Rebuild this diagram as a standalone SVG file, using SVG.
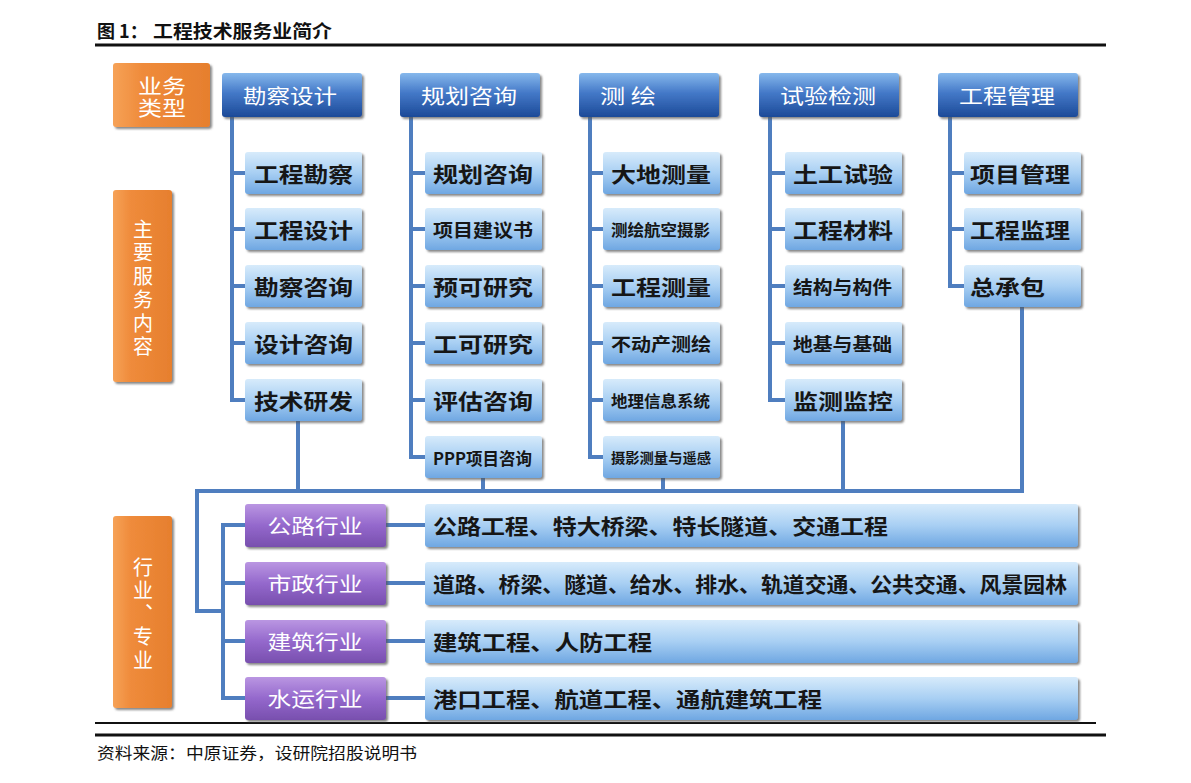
<svg xmlns="http://www.w3.org/2000/svg" width="1191" height="783" viewBox="0 0 1191 783">
<defs>
<linearGradient id="gHdr" x1="0" y1="0" x2="0" y2="1">
<stop offset="0" stop-color="#86b8ec"/><stop offset="0.45" stop-color="#4479c8"/><stop offset="1" stop-color="#1c4a98"/>
</linearGradient>
<linearGradient id="gChild" x1="0" y1="0" x2="0" y2="1">
<stop offset="0" stop-color="#d7ebfb"/><stop offset="0.5" stop-color="#a8cff3"/><stop offset="1" stop-color="#6fa7e2"/>
</linearGradient>
<linearGradient id="gPur" x1="0" y1="0" x2="0" y2="1">
<stop offset="0" stop-color="#ba96e2"/><stop offset="0.5" stop-color="#9468cc"/><stop offset="1" stop-color="#784fae"/>
</linearGradient>
<linearGradient id="gOrg" x1="0" y1="0" x2="1" y2="0">
<stop offset="0" stop-color="#f6a257"/><stop offset="0.3" stop-color="#ef8b3b"/><stop offset="1" stop-color="#e67f2e"/>
</linearGradient>
<filter id="sh" x="-10%" y="-10%" width="130%" height="140%">
<feDropShadow dx="2" dy="2" stdDeviation="1" flood-color="#555" flood-opacity="0.7"/>
</filter>
<style>
.hdr{fill:url(#gHdr);filter:url(#sh)}
.child{fill:url(#gChild);filter:url(#sh)}
.pur{fill:url(#gPur);filter:url(#sh)}
.org{fill:url(#gOrg);filter:url(#sh)}
.tw{fill:#fff;font-family:"Noto Sans CJK SC","Noto Sans",sans-serif;font-size:20px;dominant-baseline:central}
.tv{fill:#fff;font-family:"Noto Sans CJK SC","Noto Sans",sans-serif;font-size:20px;writing-mode:vertical-rl;text-orientation:upright}
.tb{fill:#161616;font-family:"Noto Sans CJK SC","Noto Sans",sans-serif;font-weight:bold;font-size:21px;dominant-baseline:central}
.s5{font-size:18px}.s6{font-size:16px}.s7{font-size:14px}.sp{font-size:17px}
.conn{stroke:#4f7ebf;stroke-width:4;fill:none}
.rule{stroke:#111;fill:none}
</style>
</defs>
<rect width="1191" height="783" fill="#fff"/>

<g id="title">
<text x="97" y="30" style="font-family:'Noto Sans CJK SC',sans-serif;font-weight:bold;font-size:18px;dominant-baseline:central;fill:#111">图 1：<tspan x="153" textLength="179" lengthAdjust="spacingAndGlyphs">工程技术服务业简介</tspan></text>
</g>
<path class="rule" d="M95,45 H1106" stroke-width="3"/>
<path class="rule" d="M95,723 H1096" stroke-width="2"/>
<path class="rule" d="M95,735 H1106" stroke-width="3"/>
<text x="97" y="752" textLength="320" lengthAdjust="spacingAndGlyphs" style="font-family:'Noto Sans CJK SC',sans-serif;font-size:16px;dominant-baseline:central;fill:#111">资料来源：中原证券，设研院招股说明书</text>

<g id="connectors">
<path class="conn" d="M232,117 V400 H245 M232,173 H245 M232,229 H245 M232,286 H245 M232,343 H245"/>
<path class="conn" d="M411,117 V457 H425 M411,173 H425 M411,229 H425 M411,286 H425 M411,343 H425 M411,400 H425"/>
<path class="conn" d="M590,117 V457 H603 M590,173 H603 M590,229 H603 M590,286 H603 M590,343 H603 M590,400 H603"/>
<path class="conn" d="M770,117 V400 H785 M770,173 H785 M770,229 H785 M770,286 H785 M770,343 H785"/>
<path class="conn" d="M950,117 V286 H964 M950,173 H964 M950,229 H964"/>
<path class="conn" d="M298,421 V491 M483,478 V491 M663,478 V491 M843,421 V491 M1022,307 V491 H197 V611 H223"/>
<path class="conn" d="M245,525 H223 V698 H245 M223,583 H245 M223,641 H245"/>
<path class="conn" d="M386,525 H425 M386,583 H425 M386,641 H425 M386,698 H425"/>
</g>

<g id="type-label"><rect class="org" x="113" y="63" width="97" height="64" rx="3"/>
<text class="tw"><tspan x="138" y="85" textLength="48" lengthAdjust="spacingAndGlyphs">业务</tspan><tspan x="138" y="107" textLength="48" lengthAdjust="spacingAndGlyphs">类型</tspan></text></g>

<g id="service-label"><rect class="org" x="113" y="190" width="59" height="192" rx="3"/>
<text class="tv" x="143" y="219" letter-spacing="3.5">主要服务内容</text></g>

<g id="industry-label"><rect class="org" x="113" y="516" width="59" height="192" rx="3"/>
<text class="tv" x="143" y="557" letter-spacing="3.3">行业、专业</text></g>

<g id="h-kcsj"><rect class="hdr" x="222" y="73" width="140" height="44" rx="3"/><text class="tw" x="243" y="95" textLength="94" lengthAdjust="spacingAndGlyphs">勘察设计</text></g>
<g id="h-ghzx"><rect class="hdr" x="400" y="73" width="140" height="44" rx="3"/><text class="tw" x="421" y="95" textLength="96" lengthAdjust="spacingAndGlyphs">规划咨询</text></g>
<g id="h-ch"><rect class="hdr" x="579" y="73" width="140" height="44" rx="3"/><text class="tw" x="600" y="95" textLength="56" lengthAdjust="spacingAndGlyphs">测 绘</text></g>
<g id="h-syjc"><rect class="hdr" x="759" y="73" width="140" height="44" rx="3"/><text class="tw" x="780" y="95" textLength="96" lengthAdjust="spacingAndGlyphs">试验检测</text></g>
<g id="h-gcgl"><rect class="hdr" x="938" y="73" width="140" height="44" rx="3"/><text class="tw" x="959" y="95" textLength="96" lengthAdjust="spacingAndGlyphs">工程管理</text></g>

<g id="c1-1"><rect class="child" x="245" y="152" width="117" height="42" rx="3"/><text class="tb" x="254" y="173" textLength="99" lengthAdjust="spacingAndGlyphs">工程勘察</text></g>
<g id="c1-2"><rect class="child" x="245" y="208" width="117" height="42" rx="3"/><text class="tb" x="254" y="229" textLength="99" lengthAdjust="spacingAndGlyphs">工程设计</text></g>
<g id="c1-3"><rect class="child" x="245" y="265" width="117" height="42" rx="3"/><text class="tb" x="254" y="286" textLength="99" lengthAdjust="spacingAndGlyphs">勘察咨询</text></g>
<g id="c1-4"><rect class="child" x="245" y="322" width="117" height="42" rx="3"/><text class="tb" x="254" y="343" textLength="99" lengthAdjust="spacingAndGlyphs">设计咨询</text></g>
<g id="c1-5"><rect class="child" x="245" y="379" width="117" height="42" rx="3"/><text class="tb" x="254" y="400" textLength="99" lengthAdjust="spacingAndGlyphs">技术研发</text></g>

<g id="c2-1"><rect class="child" x="425" y="152" width="117" height="42" rx="3"/><text class="tb" x="433" y="173" textLength="100" lengthAdjust="spacingAndGlyphs">规划咨询</text></g>
<g id="c2-2"><rect class="child" x="425" y="208" width="117" height="42" rx="3"/><text class="tb s5" x="433" y="229" textLength="100" lengthAdjust="spacingAndGlyphs">项目建议书</text></g>
<g id="c2-3"><rect class="child" x="425" y="265" width="117" height="42" rx="3"/><text class="tb" x="433" y="286" textLength="100" lengthAdjust="spacingAndGlyphs">预可研究</text></g>
<g id="c2-4"><rect class="child" x="425" y="322" width="117" height="42" rx="3"/><text class="tb" x="433" y="343" textLength="100" lengthAdjust="spacingAndGlyphs">工可研究</text></g>
<g id="c2-5"><rect class="child" x="425" y="379" width="117" height="42" rx="3"/><text class="tb" x="433" y="400" textLength="100" lengthAdjust="spacingAndGlyphs">评估咨询</text></g>
<g id="c2-6"><rect class="child" x="425" y="436" width="117" height="42" rx="3"/><text class="tb sp" x="433" y="457" textLength="99" lengthAdjust="spacingAndGlyphs">PPP项目咨询</text></g>

<g id="c3-1"><rect class="child" x="603" y="152" width="117" height="42" rx="3"/><text class="tb" x="611" y="173" textLength="100" lengthAdjust="spacingAndGlyphs">大地测量</text></g>
<g id="c3-2"><rect class="child" x="603" y="208" width="117" height="42" rx="3"/><text class="tb s6" x="611" y="229" textLength="99" lengthAdjust="spacingAndGlyphs">测绘航空摄影</text></g>
<g id="c3-3"><rect class="child" x="603" y="265" width="117" height="42" rx="3"/><text class="tb" x="611" y="286" textLength="100" lengthAdjust="spacingAndGlyphs">工程测量</text></g>
<g id="c3-4"><rect class="child" x="603" y="322" width="117" height="42" rx="3"/><text class="tb s5" x="611" y="343" textLength="100" lengthAdjust="spacingAndGlyphs">不动产测绘</text></g>
<g id="c3-5"><rect class="child" x="603" y="379" width="117" height="42" rx="3"/><text class="tb s6" x="611" y="400" textLength="99" lengthAdjust="spacingAndGlyphs">地理信息系统</text></g>
<g id="c3-6"><rect class="child" x="603" y="436" width="117" height="42" rx="3"/><text class="tb s7" x="611" y="457" textLength="100" lengthAdjust="spacingAndGlyphs">摄影测量与遥感</text></g>

<g id="c4-1"><rect class="child" x="785" y="152" width="117" height="42" rx="3"/><text class="tb" x="793" y="173" textLength="100" lengthAdjust="spacingAndGlyphs">土工试验</text></g>
<g id="c4-2"><rect class="child" x="785" y="208" width="117" height="42" rx="3"/><text class="tb" x="793" y="229" textLength="100" lengthAdjust="spacingAndGlyphs">工程材料</text></g>
<g id="c4-3"><rect class="child" x="785" y="265" width="117" height="42" rx="3"/><text class="tb s5" x="793" y="286" textLength="99" lengthAdjust="spacingAndGlyphs">结构与构件</text></g>
<g id="c4-4"><rect class="child" x="785" y="322" width="117" height="42" rx="3"/><text class="tb s5" x="793" y="343" textLength="99" lengthAdjust="spacingAndGlyphs">地基与基础</text></g>
<g id="c4-5"><rect class="child" x="785" y="379" width="117" height="42" rx="3"/><text class="tb" x="793" y="400" textLength="100" lengthAdjust="spacingAndGlyphs">监测监控</text></g>

<g id="c5-1"><rect class="child" x="964" y="152" width="117" height="42" rx="3"/><text class="tb" x="970" y="173" textLength="100" lengthAdjust="spacingAndGlyphs">项目管理</text></g>
<g id="c5-2"><rect class="child" x="964" y="208" width="117" height="42" rx="3"/><text class="tb" x="970" y="229" textLength="100" lengthAdjust="spacingAndGlyphs">工程监理</text></g>
<g id="c5-3"><rect class="child" x="964" y="265" width="117" height="42" rx="3"/><text class="tb" x="970" y="286" textLength="75" lengthAdjust="spacingAndGlyphs">总承包</text></g>

<g id="ind-1"><rect class="pur" x="245" y="504" width="141" height="43" rx="3"/><text class="tw" x="315" y="525" text-anchor="middle" textLength="95" lengthAdjust="spacingAndGlyphs">公路行业</text></g>
<g id="ind-2"><rect class="pur" x="245" y="562" width="141" height="43" rx="3"/><text class="tw" x="315" y="583" text-anchor="middle" textLength="95" lengthAdjust="spacingAndGlyphs">市政行业</text></g>
<g id="ind-3"><rect class="pur" x="245" y="620" width="141" height="43" rx="3"/><text class="tw" x="315" y="641" text-anchor="middle" textLength="95" lengthAdjust="spacingAndGlyphs">建筑行业</text></g>
<g id="ind-4"><rect class="pur" x="245" y="677" width="141" height="43" rx="3"/><text class="tw" x="315" y="698" text-anchor="middle" textLength="95" lengthAdjust="spacingAndGlyphs">水运行业</text></g>

<g id="spec-1"><rect class="child" x="425" y="504" width="653" height="43" rx="3"/><text class="tb" x="433" y="525" textLength="455" lengthAdjust="spacingAndGlyphs">公路工程、特大桥梁、特长隧道、交通工程</text></g>
<g id="spec-2"><rect class="child" x="425" y="562" width="653" height="43" rx="3"/><text class="tb" x="433" y="583" textLength="634" lengthAdjust="spacingAndGlyphs">道路、桥梁、隧道、给水、排水、轨道交通、公共交通、风景园林</text></g>
<g id="spec-3"><rect class="child" x="425" y="620" width="653" height="43" rx="3"/><text class="tb" x="433" y="641" textLength="219" lengthAdjust="spacingAndGlyphs">建筑工程、人防工程</text></g>
<g id="spec-4"><rect class="child" x="425" y="677" width="653" height="43" rx="3"/><text class="tb" x="433" y="698" textLength="389" lengthAdjust="spacingAndGlyphs">港口工程、航道工程、通航建筑工程</text></g>
</svg>
